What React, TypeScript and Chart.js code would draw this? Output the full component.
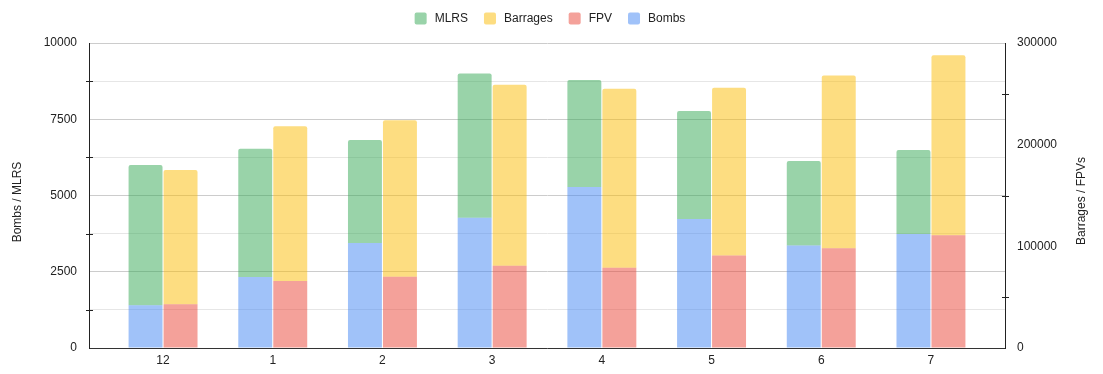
import React, { useEffect, useRef } from 'react';
import { Chart, registerables } from 'chart.js';

Chart.register(...registerables);

// ---- Data ----
const months = ['12', '1', '2', '3', '4', '5', '6', '7'];
const bombs = [1400, 2330, 3440, 4270, 5280, 4230, 3360, 3740];
const mlrs = [4600, 4200, 3380, 4730, 3510, 3540, 2770, 2750];
const fpv = [43000, 66000, 70000, 81000, 79000, 91000, 98000, 111000];
const barrages = [132000, 152000, 154000, 178000, 176000, 165000, 170000, 177000];

const leftTickLabels = [0, 2500, 5000, 7500, 10000];
const leftMinorTicks = [1250, 3750, 6250, 8750];
const rightTickLabels = [0, 100000, 200000, 300000];
const rightMinorTicks = [50000, 150000, 250000];

const legendOrder = ['MLRS', 'Barrages', 'FPV', 'Bombs'];

// ---- Styles ----
const FONT = 'Arial, "Liberation Sans", sans-serif';
const TEXT = '#222';
const COLORS: Record<string, string> = {
  Bombs: 'rgba(66,133,244,0.5)',
  MLRS: 'rgba(52,168,83,0.5)',
  FPV: 'rgba(234,67,53,0.5)',
  Barrages: 'rgba(251,188,4,0.5)',
};

const toPoints = (arr: number[]) => arr.map((v, i) => ({ x: i, y: v }));

const decorPlugin = {
  id: 'decor',
  afterDraw(chart: any) {
    const c = chart.ctx as CanvasRenderingContext2D;
    const y = chart.scales.y;
    const y1 = chart.scales.y1;
    c.save();
    // minor tick marks crossing axes
    c.strokeStyle = '#222';
    c.lineWidth = 1;
    for (const v of leftMinorTicks) {
      const py = Math.round(y.getPixelForValue(v)) + 0.5;
      c.beginPath();
      c.moveTo(y.right - 3, py);
      c.lineTo(y.right + 4, py);
      c.stroke();
    }
    for (const v of rightMinorTicks) {
      const py = Math.round(y1.getPixelForValue(v)) + 0.5;
      c.beginPath();
      c.moveTo(y1.left - 3, py);
      c.lineTo(y1.left + 4, py);
      c.stroke();
    }
    // axis titles
    c.fillStyle = TEXT;
    c.font = `12px ${FONT}`;
    c.textAlign = 'center';
    c.textBaseline = 'middle';
    c.save();
    c.translate(18, 202);
    c.rotate(-Math.PI / 2);
    c.fillText('Bombs / MLRS', 0, 0);
    c.restore();
    c.save();
    c.translate(1082, 201);
    c.rotate(-Math.PI / 2);
    c.fillText('Barrages / FPVs', 0, 0);
    c.restore();
    // legend
    c.textAlign = 'left';
    const items = legendOrder.map((name) => ({ name, w: c.measureText(name).width }));
    const total = items.reduce((s, it) => s + 12 + 8 + it.w, 0) + 16 * (items.length - 1);
    let x = 550 - total / 2;
    for (const it of items) {
      c.fillStyle = COLORS[it.name];
      c.beginPath();
      (c as any).roundRect(x, 12.5, 12, 12, 2);
      c.fill();
      c.fillStyle = TEXT;
      c.fillText(it.name, x + 20, 18.5);
      x += 20 + it.w + 16;
    }
    c.restore();
  },
};

export default function App() {
  const ref = useRef<HTMLCanvasElement>(null);
  useEffect(() => {
    document.body.style.margin = '0';
    Chart.defaults.font.family = FONT;
    Chart.defaults.font.size = 12;
    Chart.defaults.color = TEXT;
    const series = [
      { label: 'Bombs', data: bombs, stack: 'left', yAxisID: 'y', top: false },
      { label: 'MLRS', data: mlrs, stack: 'left', yAxisID: 'y', top: true },
      { label: 'FPV', data: fpv, stack: 'right', yAxisID: 'y1', top: false },
      { label: 'Barrages', data: barrages, stack: 'right', yAxisID: 'y1', top: true },
    ];
    const chart = new Chart(ref.current!, {
      type: 'bar',
      data: {
        datasets: series.map((s) => ({
          label: s.label,
          data: toPoints(s.data) as any,
          stack: s.stack,
          yAxisID: s.yAxisID,
          backgroundColor: COLORS[s.label],
          borderWidth: 0,
          borderRadius: s.top ? { topLeft: 2, topRight: 2, bottomLeft: 0, bottomRight: 0 } : 0,
          categoryPercentage: 0.638,
          barPercentage: 0.97,
        })),
      },
      options: {
        responsive: false,
        animation: false,
        devicePixelRatio: 1,
        layout: { padding: { top: 43, left: 0, right: 0, bottom: 0 } },
        plugins: { legend: { display: false }, tooltip: { enabled: false } },
        scales: {
          x: {
            type: 'linear',
            offset: false,
            min: -0.675,
            max: 7.675,
            stacked: true,
            grid: { display: false, drawTicks: false, offset: false },
            border: { color: '#333' },
            afterBuildTicks: (axis: any) => {
              axis.ticks = months.map((_, i) => ({ value: i }));
            },
            ticks: {
              padding: 5,
              color: TEXT,
              autoSkip: false,
              maxRotation: 0,
              callback: (v: any) => months[v] ?? '',
            },
            afterFit: (s: any) => {
              s.height = 26;
            },
          },
          y: {
            position: 'left',
            min: 0,
            max: 10000,
            stacked: true,
            grid: {
              drawTicks: false,
              color: (ctx: any) => (leftTickLabels.includes(ctx.tick?.value) ? '#cccccc' : '#e6e6e6'),
            },
            border: { color: '#222' },
            ticks: {
              stepSize: 1250,
              padding: 12,
              color: TEXT,
              callback: (v: any) => (leftTickLabels.includes(v) ? String(v) : ''),
            },
            afterFit: (s: any) => {
              s.width = 89;
            },
          },
          y1: {
            position: 'right',
            min: 0,
            max: 300000,
            stacked: true,
            grid: { drawOnChartArea: false, drawTicks: false },
            border: { color: '#222' },
            ticks: {
              stepSize: 50000,
              padding: 12,
              color: TEXT,
              callback: (v: any) => (rightTickLabels.includes(v) ? String(v) : ''),
            },
            afterFit: (s: any) => {
              s.width = 98;
            },
          },
        },
      } as any,
      plugins: [decorPlugin],
    });
    return () => chart.destroy();
  }, []);
  return <canvas ref={ref} width={1103} height={374} style={{ display: 'block' }} />;
}
